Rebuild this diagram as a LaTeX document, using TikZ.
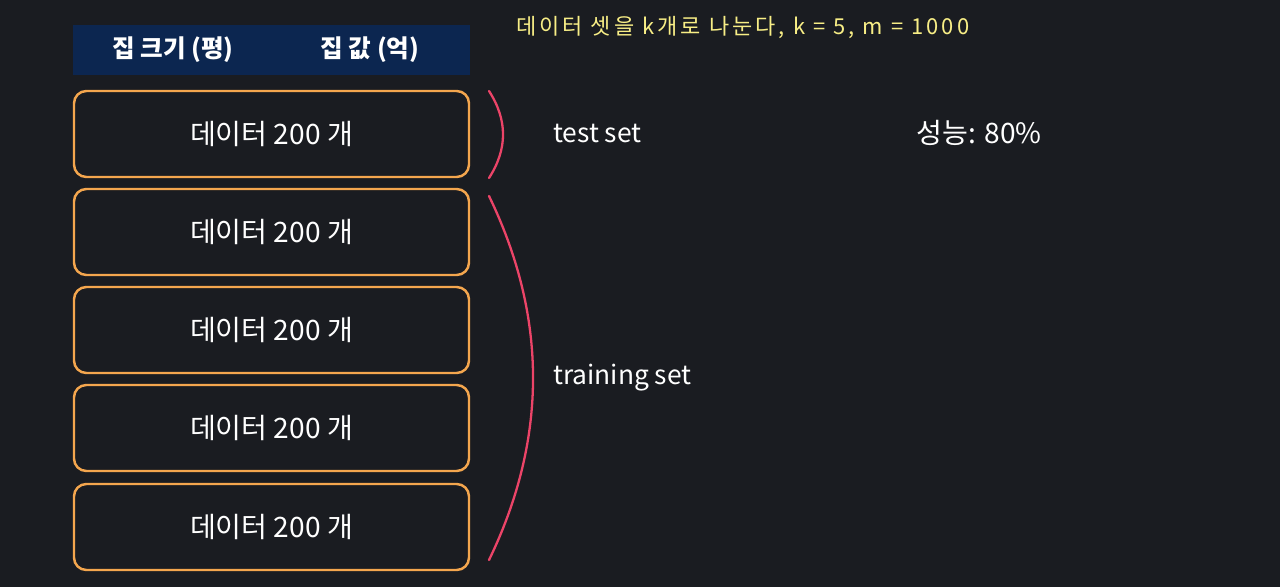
\documentclass[tikz,border=0pt]{standalone}
\usepackage{fontspec}
\setmainfont{Noto Sans CJK KR}
\newfontfamily\notefont[LetterSpace=14]{Noto Sans CJK KR}
\usepackage{tikz}
\usetikzlibrary{positioning}
\definecolor{bgdark}{HTML}{1A1C21}
\definecolor{headblue}{HTML}{0C2650}
\definecolor{boxorange}{HTML}{F4A64E}
\definecolor{arcred}{HTML}{EC4468}
\definecolor{noteyellow}{HTML}{F8EE86}
\tikzset{
  headtext/.style={text=white,font=\fontsize{14}{16}\selectfont\bfseries},
  datatext/.style={text=white,font=\fontsize{16}{18}\selectfont},
  settext/.style={text=white,anchor=west,font=\fontsize{15}{18}\selectfont},
  brace/.style={draw=arcred,line width=1.3pt,line cap=round}
}
\begin{document}
\begin{tikzpicture}[line join=round,x=0.02cm,y=-0.02cm]
\fill[bgdark] (0,0) rectangle (1280,587);
\useasboundingbox (0,0) rectangle (1280,587);
% header
\fill[headblue] (73,25) rectangle (470,75);
\node[headtext] (hsize) at (173,50) {집 크기 (평)};
\node[headtext] (hprice) at (370,50) {집 값 (억)};
% note
\node[text=noteyellow,anchor=west,font=\notefont\fontsize{12.5}{14}\selectfont] (note) at (510,28) {데이터 셋을 k개로 나눈다, k = 5, m = 1000};
% data boxes
\foreach \i/\y in {1/134,2/232,3/330,4/428,5/527}{
  \draw[boxorange,line width=1.4pt,rounded corners=7pt,fill=bgdark] (74,\y-43) rectangle (469,\y+43);
  \node[datatext] (data\i) at (271.5,\y) {데이터 200 개};
}
% braces
\coordinate (ttop) at (489,91);
\coordinate (tbot) at (489,178);
\coordinate (rtop) at (489,196);
\coordinate (rbot) at (489,560);
\draw[brace] (ttop) .. controls (507.7,120) and (507.7,149) .. (tbot);
\draw[brace] (rtop) .. controls (547.7,317.3) and (547.7,438.7) .. (rbot);
% labels
\node[settext] (test) at (547,134) {test set};
\node[settext] (train) at (547,378) {training set};
\node[datatext] (score) at (979,133) {성능: 80\%};
\end{tikzpicture}
\end{document}
